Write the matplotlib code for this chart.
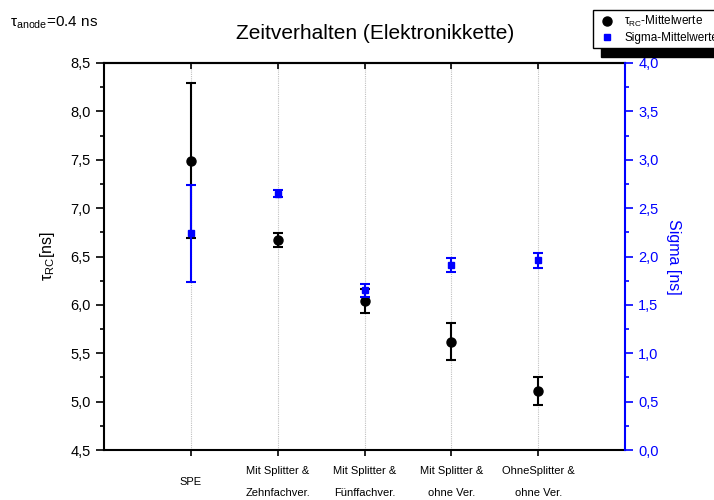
import matplotlib.pyplot as plt
from matplotlib.ticker import FuncFormatter, MultipleLocator

plt.rcParams['font.family'] = ['Liberation Sans', 'DejaVu Sans']
plt.rcParams['mathtext.default'] = 'regular'

# Messreihen der Elektronikkette
kategorien = ["SPE", "Mit Splitter &\nZehnfachver.", "Mit Splitter &\nFünffachver.",
              "Mit Splitter &\nohne Ver.", "OhneSplitter &\nohne Ver."]
pos = [1, 2, 3, 4, 5]
tau_rc = [7.49, 6.67, 6.04, 5.62, 5.11]
tau_rc_err = [0.80, 0.07, 0.12, 0.19, 0.145]
sigma = [2.24, 2.65, 1.65, 1.91, 1.96]
sigma_err = [0.50, 0.04, 0.07, 0.075, 0.075]

komma = FuncFormatter(lambda v, p: f"{v:.1f}".replace('.', ','))

fig = plt.figure(figsize=(7.14, 5), dpi=100)
ax = fig.add_axes([104 / 714, 0.1, (625 - 104) / 714, (450 - 63) / 500])
ax2 = ax.twinx()

# Hilfslinien an den Kategorien
for x in pos:
    ax.axvline(x, color='#c0c0c0', linestyle=(0, (1, 1)), linewidth=0.8, zorder=0)

ax.errorbar(pos, tau_rc, yerr=tau_rc_err, fmt='o', color='black', markersize=6.5,
            elinewidth=1.5, capsize=3.5, capthick=1.5, label=r"$\tau_{RC}$-Mittelwerte", zorder=3)
ax2.errorbar(pos, sigma, yerr=sigma_err, fmt='s', color='#0000ff', markersize=3.8,
             elinewidth=1.5, capsize=3.5, capthick=1.5, label="Sigma-Mittelwerte", zorder=3)

ax.set_xlim(0, 6)
ax.set_ylim(4.5, 8.5)
ax2.set_ylim(0, 4.0)

ax.set_xticks(pos)
ax.set_xticklabels(kategorien, fontsize=8, linespacing=2.5, va='center')
ax.tick_params(axis='x', direction='out', length=4, width=1.2, pad=19)

# Striche oben nach innen
oben = ax.secondary_xaxis('top')
oben.set_xticks(pos)
oben.set_xticklabels([])
oben.tick_params(direction='in', length=4, width=1.2)
oben.spines['top'].set_linewidth(1.5)

ax.yaxis.set_major_locator(MultipleLocator(0.5))
ax.yaxis.set_minor_locator(MultipleLocator(0.25))
ax.yaxis.set_major_formatter(komma)
ax.tick_params(axis='y', which='major', direction='out', length=6, width=1.2, labelsize=10.5)
ax.tick_params(axis='y', which='minor', direction='out', length=3, width=1.2)
ax.set_ylabel(r"$\tau_{RC}$[ns]", fontsize=11.5, labelpad=10)

ax2.yaxis.set_major_locator(MultipleLocator(0.5))
ax2.yaxis.set_minor_locator(MultipleLocator(0.25))
ax2.yaxis.set_major_formatter(komma)
ax2.tick_params(axis='y', which='major', direction='out', length=6, width=1.2,
                labelsize=10.5, colors='#0000ff')
ax2.tick_params(axis='y', which='minor', direction='out', length=3, width=1.2, colors='#0000ff')
ax2.set_ylabel("Sigma [ns]", fontsize=11.5, color='#0000ff', rotation=270, labelpad=16)

for s in ['left', 'bottom', 'top']:
    ax.spines[s].set_linewidth(1.5)
ax2.spines['right'].set_color('#0000ff')
ax2.spines['right'].set_linewidth(1.5)
for s in ['left', 'bottom', 'top']:
    ax2.spines[s].set_visible(False)
ax.spines['right'].set_visible(False)

fig.text(375 / 714, 1 - 33 / 500, "Zeitverhalten (Elektronikkette)", fontsize=15,
         ha='center', va='center')
fig.text(10 / 714, 1 - 23 / 500, r"$\tau_{anode}$=0.4 ns", fontsize=11, ha='left', va='center')

h1, l1 = ax.get_legend_handles_labels()
h2, l2 = ax2.get_legend_handles_labels()
h1 = [h[0] for h in h1]
h2 = [h[0] for h in h2]
fig.legend(h1 + h2, l1 + l2, loc='upper left', bbox_to_anchor=(593 / 714, 1 - 10 / 500),
           fontsize=8.5, frameon=True, fancybox=False, edgecolor='black', framealpha=1,
           shadow={'color': 'black', 'alpha': 1, 'ox': 6, 'oy': -6},
           borderaxespad=0, handlelength=1.6, handletextpad=0.7, borderpad=0.35,
           labelspacing=0.25)

fig.savefig("out.png", dpi=100)
